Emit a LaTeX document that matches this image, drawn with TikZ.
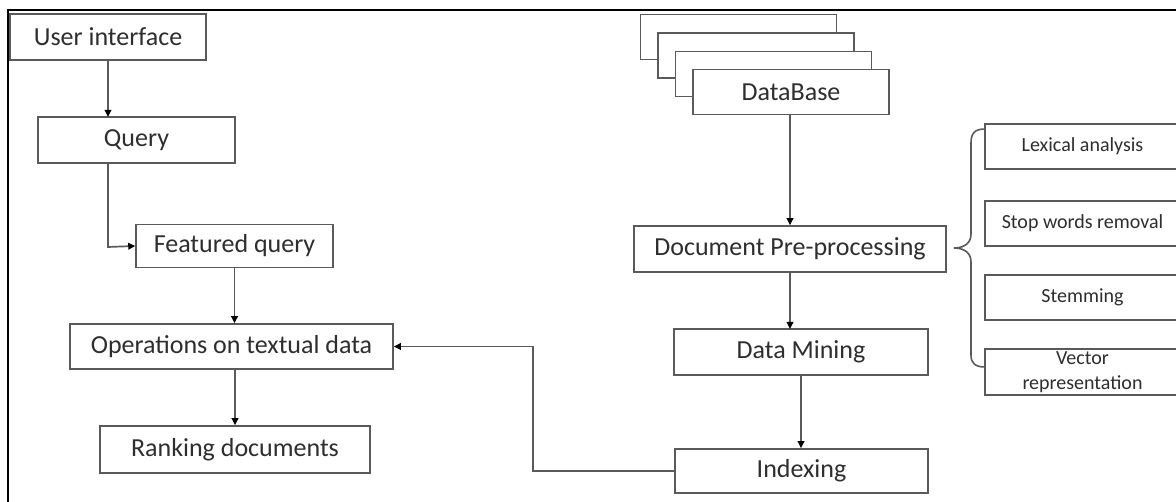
\documentclass[tikz,border=0pt]{standalone}
\usepackage{fontspec}
\setmainfont{Carlito}
\usetikzlibrary{arrows.meta}
\definecolor{boxline}{HTML}{5A5A5A}
\definecolor{txt}{HTML}{2E2E2E}
\begin{document}
\begin{tikzpicture}[x=1pt,y=-1pt,
  box/.style={draw=boxline,line width=1.5pt,fill=white,inner sep=0pt,text=txt,
    font=\fontsize{26}{30}\selectfont,minimum height=46pt},
  sbox/.style={box,font=\fontsize{20}{22}\selectfont,minimum width=195pt,minimum height=45pt},
  conn/.style={draw=boxline,line width=1.7pt,-{Triangle[length=7pt,width=6.5pt,color=black]}},
  plain/.style={draw=boxline,line width=1.6pt},
  frame/.style={draw=black,line width=2pt}]
\useasboundingbox (0,0) rectangle (1176,502);
\clip (0,0) rectangle (1176,502);
\draw[frame] (8,510) -- (8,10) -- (1190,10);
% left column
\node[box,minimum width=196pt] (ui) at (108,37) {User interface};
\node[box,minimum width=197pt] (query) at (136.5,140) {Query};
\node[box,minimum width=197pt,minimum height=43pt] (feat) at (234.5,246) {Featured query};
\node[box,minimum width=323pt,minimum height=45pt] (ops) at (231.5,346.5) {Operations on textual data};
\node[box,minimum width=270pt,minimum height=47pt] (rank) at (235,449.5) {Ranking documents};
% database stack
\node[box,minimum width=196pt,minimum height=45pt] (s1) at (738.5,37) {};
\node[box,minimum width=196pt,minimum height=45pt] (s2) at (756,55.5) {};
\node[box,minimum width=196pt,minimum height=45pt] (s3) at (773.5,74) {};
\node[box,minimum width=196pt,minimum height=45pt] (db) at (791,92) {DataBase};
\node[box,minimum width=312pt] (pre) at (790,249) {Document Pre-processing};
\node[box,minimum width=254pt] (dm) at (801,352) {Data Mining};
\node[box,minimum width=253pt,minimum height=44pt] (idx) at (801.5,471) {Indexing};
% right column
\node[sbox] (lex) at (1082.5,146.5) {Lexical analysis};
\node[sbox] (stop) at (1082.5,223.5) {Stop words removal};
\node[sbox] (stem) at (1082.5,297.5) {Stemming};
\node[sbox,minimum height=46pt,align=center,font=\fontsize{20}{25}\selectfont] (vec) at (1082.5,372) {Vector\\representation};
% connectors
\coordinate (qbend) at (108,247);
\coordinate (ibend) at (533,471);
\draw[conn] (ui.south -| 108,0) -- (108,117);
\draw[conn] (108,163) -- (qbend) -- (feat.west);
\draw[conn] (feat.south) -- (feat.south |- ops.north);
\draw[conn] (ops.south -| rank.north) -- (rank.north);
\draw[conn] (790,114) -- (pre.north -| 790,0);
\draw[conn] (790,272) -- (790,329);
\draw[conn] (dm.south) -- (idx.north -| dm.south);
\draw[conn] (idx.west) -- (ibend) -- (ibend |- ops.east) -- (ops.east);
% brace
\draw[plain] (985,129) .. controls (975,129) and (971,133) .. (971,143) -- (971,234)
  .. controls (971,244) and (963,248) .. (954,248)
  .. controls (963,248) and (971,252) .. (971,262) -- (971,355)
  .. controls (971,363) and (975,367) .. (985,367);
\end{tikzpicture}
\end{document}
